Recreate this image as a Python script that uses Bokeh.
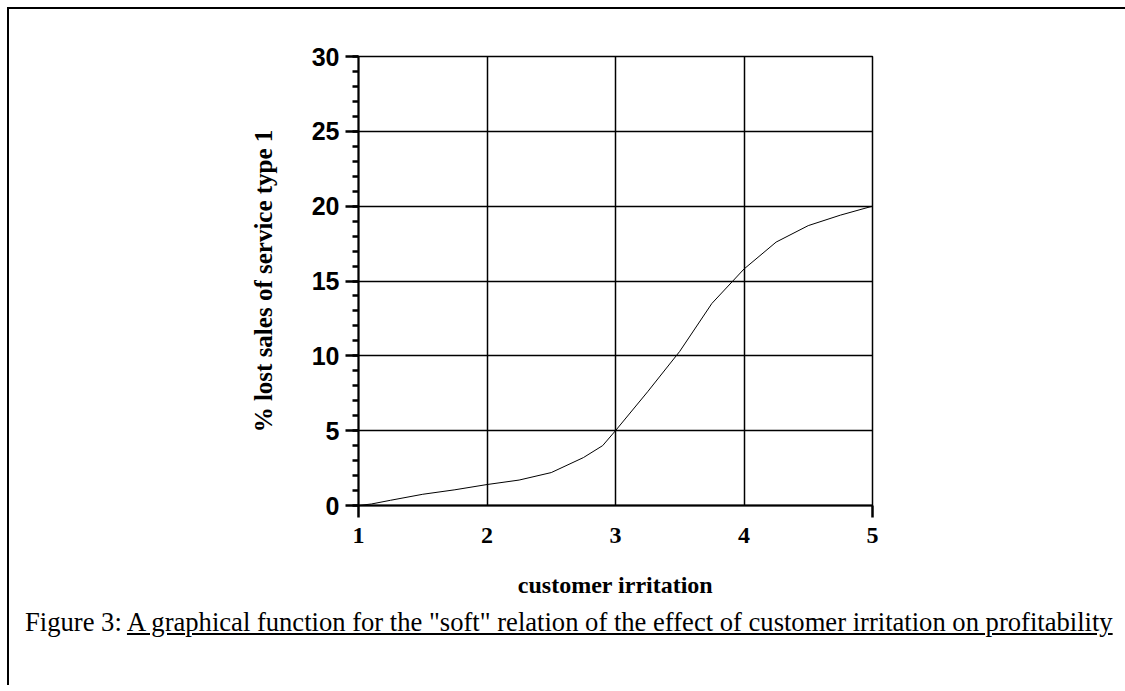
from bokeh.plotting import figure
from bokeh.models import LinearAxis, FixedTicker, SingleIntervalTicker, Range1d, Div
from bokeh.layouts import column
from bokeh.embed import file_html
from bokeh.resources import INLINE

irritation = [1.0, 1.1, 1.25, 1.5, 1.75, 2.0, 2.25, 2.5, 2.75, 2.9, 3.0, 3.25, 3.5, 3.75, 4.0, 4.25, 4.5, 4.75, 5.0]
lost_sales = [0.0, 0.1, 0.35, 0.75, 1.05, 1.4, 1.7, 2.2, 3.2, 4.0, 5.0, 7.6, 10.3, 13.5, 15.8, 17.6, 18.7, 19.4, 20.0]

x_labels_ticks = [1, 2, 3, 4, 5]
x_end_ticks = [1, 5]
x_grid_ticks = [2, 3, 4]

x_title = "customer irritation"
y_title = "% lost sales of service type 1"
caption_plain = "Figure 3: "
caption_underlined = 'A graphical function for the "soft" relation of the effect of customer irritation on profitability'

p = figure(frame_width=514, frame_height=449,
           x_range=Range1d(1, 5), y_range=Range1d(0, 30),
           x_axis_location=None,
           min_border_left=349, min_border_right=247, min_border_top=47, min_border_bottom=94,
           output_backend="svg", toolbar_location=None)
p.background_fill_color = "white"
p.border_fill_color = "white"
p.outline_line_color = "black"
p.outline_line_width = 1.5

# y axis
ya = p.yaxis[0]
ya.ticker = SingleIntervalTicker(interval=5, num_minor_ticks=5)
ya.axis_line_width = 2
ya.axis_line_color = "black"
ya.major_tick_in = 0
ya.major_tick_out = 13
ya.major_tick_line_width = 2.5
ya.minor_tick_in = 0
ya.minor_tick_out = 6
ya.minor_tick_line_width = 2.5
ya.major_label_standoff = 6
ya.major_label_text_font = "Liberation Sans"
ya.major_label_text_font_style = "bold"
ya.major_label_text_font_size = "25px"
ya.major_label_text_color = "black"
ya.axis_label = y_title
ya.axis_label_text_font = "Liberation Serif"
ya.axis_label_text_font_style = "bold"
ya.axis_label_text_font_size = "25px"
ya.axis_label_text_color = "black"
ya.axis_label_standoff = 32

# x axis: line and end ticks (no labels)
tick_ax = LinearAxis(ticker=FixedTicker(ticks=x_end_ticks))
tick_ax.axis_line_width = 2
tick_ax.axis_line_color = "black"
tick_ax.major_tick_in = 0
tick_ax.major_tick_out = 12
tick_ax.major_tick_line_width = 2.5
tick_ax.major_label_overrides = {1: "", 5: ""}
tick_ax.major_label_text_font_size = "10px"
tick_ax.major_label_standoff = 0
p.add_layout(tick_ax, "below")

# x axis: labels and title
lab_ax = LinearAxis(ticker=FixedTicker(ticks=x_labels_ticks))
lab_ax.axis_line_color = None
lab_ax.major_tick_line_color = None
lab_ax.major_tick_in = 0
lab_ax.major_tick_out = 0
lab_ax.major_label_standoff = 10
lab_ax.major_label_text_font = "Liberation Serif"
lab_ax.major_label_text_font_style = "bold"
lab_ax.major_label_text_font_size = "24px"
lab_ax.major_label_text_color = "black"
lab_ax.axis_label = x_title
lab_ax.axis_label_text_font = "Liberation Serif"
lab_ax.axis_label_text_font_style = "bold"
lab_ax.axis_label_text_font_size = "24px"
lab_ax.axis_label_text_color = "black"
lab_ax.axis_label_standoff = 26
p.add_layout(lab_ax, "below")

# grids
p.xgrid.ticker = FixedTicker(ticks=x_grid_ticks)
p.xgrid.grid_line_color = "black"
p.xgrid.grid_line_width = 1.5
p.ygrid.grid_line_color = "black"
p.ygrid.grid_line_width = 1.5

p.line(irritation, lost_sales, line_color="black", line_width=1)

cap = Div(text=('<div style="font-family:\'Liberation Serif\';font-size:26.6px;color:black;'
                'margin:-1px 0 0 11px;white-space:nowrap">' + caption_plain +
                '<u>' + caption_underlined + '</u></div>'),
          width=1110, height=75)

layout = column(p, cap, styles={"border-top": "2px solid black", "border-left": "2px solid black",
                                "margin-top": "7px", "margin-left": "7px",
                                "background-color": "white"})

open("out.html", "w").write(file_html(layout, INLINE))
